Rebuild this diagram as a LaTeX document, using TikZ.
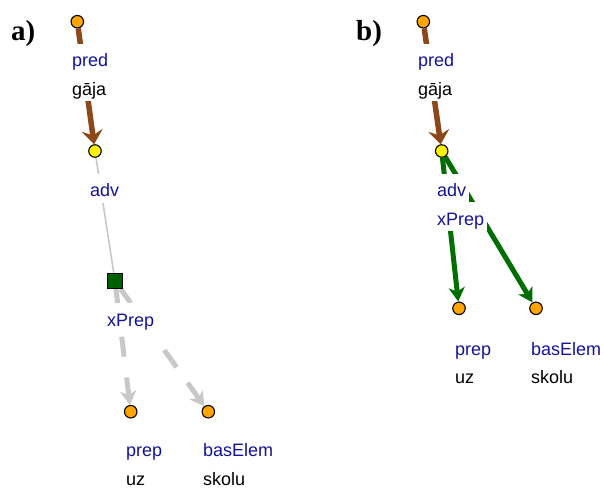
\documentclass[tikz,border=0pt]{standalone}
\usepackage{fontspec}
\setmainfont{Liberation Sans}
\newfontfamily\panelfont{Liberation Serif}
\usetikzlibrary{arrows.meta}
\definecolor{navyt}{RGB}{20,20,150}
\definecolor{brownarr}{RGB}{140,72,25}
\definecolor{greenarr}{RGB}{0,110,0}
\definecolor{sqgreen}{RGB}{0,95,0}
\definecolor{greyarr}{RGB}{200,200,200}
\definecolor{orangec}{RGB}{255,165,0}
\pgfdeclarelayer{background}
\pgfsetlayers{background,main}
\begin{document}
\begin{tikzpicture}[x=1pt,y=-1pt,
  leafdot/.style={circle, draw=black, line width=1.1pt, fill=orangec, minimum size=12.5pt, inner sep=0pt},
  headdot/.style={leafdot, fill=yellow},
  xsq/.style={rectangle, draw=black, line width=1.2pt, fill=sqgreen, minimum size=15pt, inner sep=0pt},
  role/.style={anchor=base west, fill=white, inner sep=0pt, inner xsep=3pt, text height=23pt, text depth=6pt, text=navyt, font=\fontsize{18}{20}\selectfont},
  word/.style={role, text=black},
  lastword/.style={anchor=base west, inner sep=0pt, inner xsep=3pt, text=black, font=\fontsize{18}{20}\selectfont},
  panel/.style={anchor=base west, inner sep=0pt, font=\panelfont\bfseries\fontsize{29}{30}\selectfont},
  brownedge/.style={draw=brownarr, line width=5.5pt, -{Stealth[length=14pt,width=21pt,inset=5pt]}},
  greenedge/.style={draw=greenarr, line width=5pt, -{Stealth[length=14pt,width=16pt,inset=4pt]}},
  greyedge/.style={draw=greyarr, line width=5pt, -{Stealth[length=14pt,width=16pt,inset=4pt]}},
  thinedge/.style={draw=greyarr, line width=1.6pt}
]
\useasboundingbox (0,0) rectangle (604,488);

% ---------- panel a ----------
\node[panel] (pa) at (11,40.5) {a)};
\node[leafdot] (atop) at (77.3,21.7) {};
\node[headdot] (ahead) at (95,151) {};
\node[xsq] (asq) at (115,281) {};
\node[leafdot] (aprep) at (130.7,411.7) {};
\node[leafdot] (abas) at (208.3,411.7) {};

\node[role] (apred) at (69,66.7) {pred};
\node[word] (agaja) at (69,95) {gāja};
\node[role] (aadv) at (87,196.7) {adv};
\node[role] (axprep) at (104,326) {xPrep};
\node[role] (apreplab) at (123,456.7) {prep};
\node[lastword] (auz) at (123,485.5) {uz};
\node[role] (abaslab) at (200,456.7) {basElem};
\node[lastword] (askolu) at (200,485.5) {skolu};

\begin{pgfonlayer}{background}
\draw[brownedge] (atop) -- (ahead);
\draw[thinedge] (ahead) -- (asq);
\draw[greyedge, dash pattern=on 14pt off 34pt on 20pt off 21pt on 80pt] (asq) -- (aprep);
\draw[greyedge, dash pattern=on 17pt off 58pt on 21pt off 19pt on 100pt] (asq) -- (abas);
\end{pgfonlayer}

% ---------- panel b ----------
\node[panel] (pb) at (356,40.5) {b)};
\node[leafdot] (btop) at (423.3,21.7) {};
\node[headdot] (bhead) at (441.7,151) {};
\node[leafdot] (bprep) at (459,308.3) {};
\node[leafdot] (bbas) at (536,308.3) {};

\node[role] (bpred) at (415,66.7) {pred};
\node[word] (bgaja) at (415,95) {gāja};
\node[role] (badv) at (434,196.7) {adv};
\node[role] (bxprep) at (434,225) {xPrep};
\node[role] (bpreplab) at (452,355) {prep};
\node[word] (buz) at (452,383) {uz};
\node[role] (bbaslab) at (528,355) {basElem};
\node[word] (bskolu) at (528,383) {skolu};

\begin{pgfonlayer}{background}
\draw[brownedge] (btop) -- (bhead);
\draw[greenedge] (bhead) -- (bprep);
\draw[greenedge] (bhead) -- (bbas);
\end{pgfonlayer}
\end{tikzpicture}
\end{document}
